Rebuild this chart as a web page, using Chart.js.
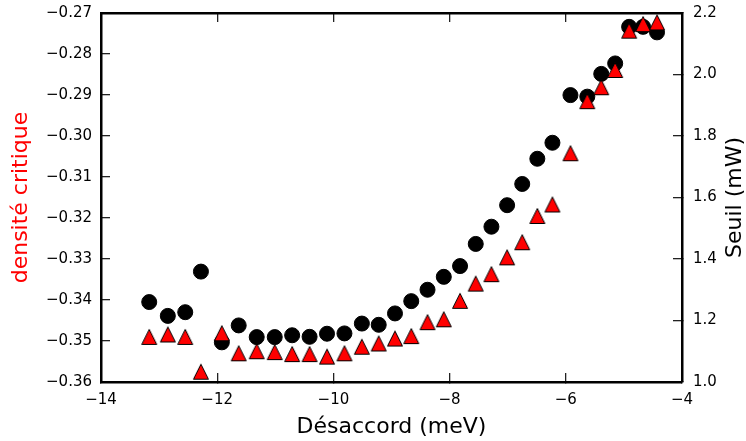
<!DOCTYPE html>
<html>
<head>
<meta charset="utf-8">
<script src="https://cdn.jsdelivr.net/npm/chart.js@4/dist/chart.umd.min.js"></script>
<style>
  html, body { margin: 0; padding: 0; background: #ffffff; }
  #wrap { width: 746px; height: 441px; position: relative; }
</style>
</head>
<body>
<div id="wrap"><canvas id="c" width="746" height="441"></canvas></div>
<script>
// ---- data ----
const detuning = [-13.17, -12.85, -12.55, -12.28, -11.92, -11.63, -11.32, -11.01, -10.71, -10.41,
  -10.11, -9.81, -9.51, -9.22, -8.94, -8.66, -8.38, -8.10, -7.82, -7.55,
  -7.28, -7.01, -6.75, -6.49, -6.23, -5.92, -5.63, -5.39, -5.15, -4.91, -4.67, -4.43];
const densiteCritique = [-0.3490, -0.3484, -0.3490, -0.3575, -0.3481, -0.3530, -0.3525, -0.3527, -0.3532, -0.3532,
  -0.3538, -0.3530, -0.3514, -0.3506, -0.3494, -0.3488, -0.3454, -0.3447, -0.3402, -0.3360,
  -0.3337, -0.3296, -0.3259, -0.3195, -0.3167, -0.3042, -0.2915, -0.2881, -0.2839, -0.2743, -0.2727, -0.2723];
const seuil = [1.260, 1.215, 1.227, 1.359, 1.129, 1.184, 1.146, 1.146, 1.152, 1.147,
  1.157, 1.158, 1.190, 1.186, 1.223, 1.263, 1.300, 1.342, 1.377, 1.449,
  1.505, 1.575, 1.644, 1.726, 1.778, 1.933, 1.928, 2.002, 2.036, 2.155, 2.155, 2.137];
const xRange = [-14, -4];
const leftRange = [-0.36, -0.27];
const rightRange = [1.0, 2.2];
const xTitle = 'Désaccord (meV)';
const leftTitle = 'densité critique';
const rightTitle = 'Seuil (mW)';

// ---- styling ----
const FONT = '"DejaVu Sans", "Liberation Sans", sans-serif';
const minus = s => String(s).replace(/-/g, '\u2212');

// matplotlib-like '^' marker (bbox-centred)
const tri = document.createElement('canvas');
tri.width = 18; tri.height = 18;
(function () {
  const g = tri.getContext('2d');
  g.beginPath();
  g.moveTo(9, 1.5); g.lineTo(1.5, 16.5); g.lineTo(16.5, 16.5); g.closePath();
  g.fillStyle = '#ff0000'; g.fill();
  g.lineWidth = 1; g.strokeStyle = '#000000'; g.stroke();
})();

const tickCol = '#222222';
const tickW = 1.3;
const borderCfg = { display: true, color: '#000000', width: 2.5 };
const noPad = s => { s.paddingTop = 0; s.paddingBottom = 0; s.paddingLeft = 0; s.paddingRight = 0; };
const gridCfg = { drawOnChartArea: false, drawTicks: true, tickLength: -9, color: tickCol, lineWidth: tickW };

const rightTitlePlugin = {
  id: 'rightTitle',
  afterDraw(chart) {
    const ctx = chart.ctx, a = chart.chartArea;
    ctx.save();
    ctx.translate(735, (a.top + a.bottom) / 2);
    ctx.rotate(-Math.PI / 2);
    ctx.font = '22px ' + FONT;
    ctx.fillStyle = '#000000';
    ctx.textAlign = 'center';
    ctx.textBaseline = 'middle';
    ctx.fillText(rightTitle, 0, 0);
    ctx.restore();
  }
};

new Chart(document.getElementById('c'), {
  type: 'scatter',
  data: {
    datasets: [
      {
        label: leftTitle,
        data: detuning.map((x, i) => ({ x: x, y: densiteCritique[i] })),
        yAxisID: 'y', xAxisID: 'x',
        pointStyle: tri, pointRadius: 9, pointHoverRadius: 9,
        showLine: false, clip: false
      },
      {
        label: rightTitle,
        data: detuning.map((x, i) => ({ x: x, y: seuil[i] })),
        yAxisID: 'y1', xAxisID: 'x',
        pointStyle: 'circle', pointRadius: 7.5, pointHoverRadius: 7.5,
        backgroundColor: '#000000', borderColor: '#000000', borderWidth: 1,
        showLine: false, clip: false
      }
    ]
  },
  options: {
    responsive: false,
    animation: false,
    events: [],
    layout: { padding: 0 },
    plugins: { legend: { display: false }, tooltip: { enabled: false } },
    scales: {
      x: {
        type: 'linear', position: 'bottom', min: xRange[0], max: xRange[1],
        afterFit: s => { s.height = 59; noPad(s); },
        border: borderCfg,
        grid: gridCfg,
        ticks: { stepSize: 2, padding: 18, color: '#000', font: { family: FONT, size: 15 },
                 maxRotation: 0, callback: v => minus(v) },
        title: { display: true, text: xTitle, color: '#000',
                 font: { family: FONT, size: 22, lineHeight: 1 }, padding: { top: 0, bottom: 3 } }
      },
      x2: {
        type: 'linear', position: 'top', min: xRange[0], max: xRange[1],
        afterFit: s => { s.height = 13; noPad(s); },
        border: borderCfg,
        grid: gridCfg,
        ticks: { stepSize: 2, display: false }
      },
      y: {
        type: 'linear', position: 'left', min: leftRange[0], max: leftRange[1],
        afterFit: s => { s.width = 101; noPad(s); },
        border: borderCfg,
        grid: gridCfg,
        ticks: { stepSize: 0.01, padding: 18, color: '#000', font: { family: FONT, size: 15 },
                 callback: v => minus(Number(v).toFixed(2)) },
        title: { display: true, text: leftTitle, color: '#ff0000',
                 font: { family: FONT, size: 22, lineHeight: 1 }, padding: { top: 10, bottom: 0 } }
      },
      y1: {
        type: 'linear', position: 'right', min: rightRange[0], max: rightRange[1],
        afterFit: s => { s.width = 64; noPad(s); },
        border: borderCfg,
        grid: gridCfg,
        ticks: { stepSize: 0.2, padding: 20, color: '#000', font: { family: FONT, size: 15 },
                 callback: v => Number(v).toFixed(1) },
        title: { display: false }
      }
    }
  },
  plugins: [rightTitlePlugin]
});
</script>
</body>
</html>
